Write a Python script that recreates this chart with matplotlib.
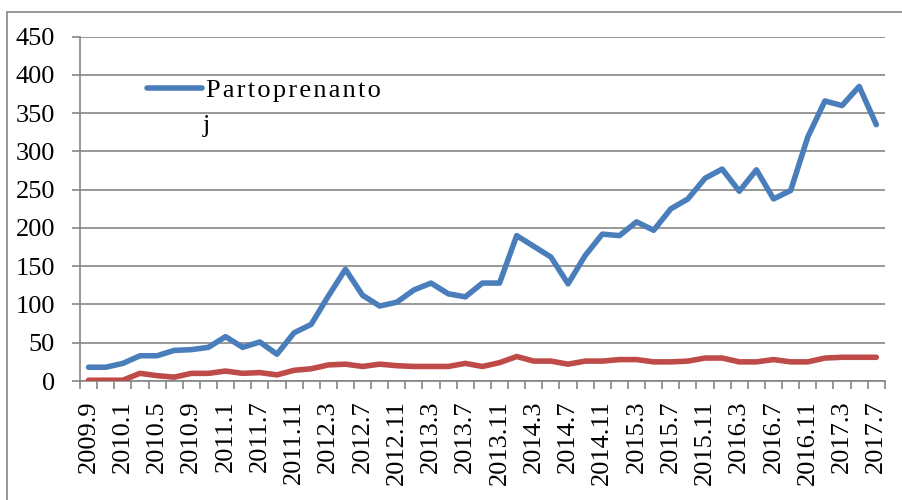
import numpy as np
import matplotlib
matplotlib.use("Agg")
import matplotlib.pyplot as plt
from matplotlib.patches import Rectangle

# categories (2011.5 is missing in the source data)
months = ["2009.9", "2009.11", "2010.1", "2010.3", "2010.5", "2010.7", "2010.9", "2010.11",
          "2011.1", "2011.3", "2011.7", "2011.9", "2011.11", "2012.1", "2012.3", "2012.5",
          "2012.7", "2012.9", "2012.11", "2013.1", "2013.3", "2013.5", "2013.7", "2013.9",
          "2013.11", "2014.1", "2014.3", "2014.5", "2014.7", "2014.9", "2014.11", "2015.1",
          "2015.3", "2015.5", "2015.7", "2015.9", "2015.11", "2016.1", "2016.3", "2016.5",
          "2016.7", "2016.9", "2016.11", "2017.1", "2017.3", "2017.5", "2017.7"]

partoprenantoj = [18, 18, 23, 33, 33, 40, 41, 44, 58, 44, 51, 35, 63, 74, 111, 146,
                  112, 98, 103, 119, 128, 114, 110, 128, 128, 190, 176, 162, 127, 164,
                  192, 190, 208, 197, 225, 238, 265, 277, 248, 276, 238, 249, 319, 366,
                  360, 385, 335]

second = [1, 1, 1, 10, 7, 5, 10, 10, 13, 10, 11, 8, 14, 16, 21, 22,
          19, 22, 20, 19, 19, 19, 23, 19, 24, 32, 26, 26, 22, 26,
          26, 28, 28, 25, 25, 26, 30, 30, 25, 25, 28, 25, 25, 30,
          31, 31, 31]

yticks = [0, 50, 100, 150, 200, 250, 300, 350, 400, 450]

plt.rcParams['font.family'] = ['Liberation Serif', 'DejaVu Serif']
grid_col = '#868686'

fig = plt.figure(figsize=(9.02, 5.0), dpi=100)
ax = fig.add_axes([0.0887, 0.238, 0.8923, 0.6886])

x = np.arange(len(months))
# legend label wrapped in the original: "Partoprenanto" / "j", letter-spaced
label = '\u200a'.join('Partoprenanto')
ax.plot(x, partoprenantoj, color='#4A7EBB', lw=4, solid_capstyle='round',
        solid_joinstyle='round', label=label, zorder=3)
ax.plot(x, second, color='#BE4B48', lw=4, solid_capstyle='round',
        solid_joinstyle='round', zorder=3)

ax.set_xlim(-0.5, len(months) - 0.5)
ax.set_ylim(0, 450)
ax.set_yticks(yticks)
ax.set_yticklabels([str(v) for v in yticks], fontsize=19)
ax.yaxis.grid(True, color=grid_col, lw=1.2)
ax.set_axisbelow(True)

ax.set_xticks(x[::2])
ax.set_xticklabels(months[::2], rotation=90, fontsize=19)
ax.set_xticks(np.arange(-0.5, len(months), 1), minor=True)
ax.tick_params(axis='x', which='major', length=0, pad=14)
ax.tick_params(axis='x', which='minor', length=6, color=grid_col, width=1.2, direction='out')
ax.tick_params(axis='y', length=6, color=grid_col, width=1.2, pad=12)

for s in ['top', 'right']:
    ax.spines[s].set_visible(False)
for s in ['left', 'bottom']:
    ax.spines[s].set_color(grid_col)
    ax.spines[s].set_linewidth(1.2)

leg = ax.legend(loc='upper left', bbox_to_anchor=(0.07, 0.909), frameon=False,
                fontsize=19, handlelength=2.1, handletextpad=0.15, borderaxespad=0)
# wrapped remainder of the legend label
fig.text(203 / 902, 1 - 132 / 500, 'j', fontsize=19, va='baseline', ha='left')

# outer chart border
fig.patches.append(Rectangle((0.0078, -0.1), 1.2, 1.076, transform=fig.transFigure,
                             fill=False, edgecolor=grid_col, lw=1.2))

fig.savefig('out.png', dpi=100)
